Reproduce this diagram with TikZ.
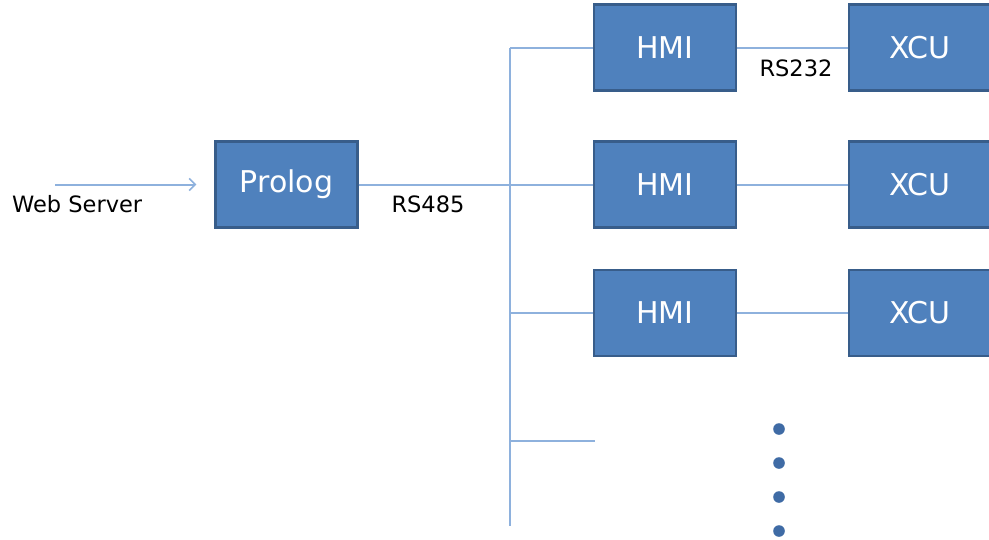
\documentclass[tikz,border=0pt]{standalone}
\usepackage{fontspec}
\setmainfont{DejaVu Sans}
\usetikzlibrary{arrows.meta}
\definecolor{boxfill}{HTML}{4F81BD}
\definecolor{boxline}{HTML}{385D8A}
\definecolor{wire}{HTML}{8EB1DD}
\definecolor{dotblue}{HTML}{3F6BA5}
\tikzset{
  unit/.style={draw=boxline, line width=2.4pt, fill=boxfill, text=white,
    minimum width=142pt, minimum height=86pt, inner sep=0pt,
    font=\fontsize{30}{36}\selectfont},
  tag/.style={inner sep=0pt, font=\fontsize{22.5}{27}\selectfont},
  wireline/.style={draw=wire, line width=2pt}
}
\begin{document}
\begin{tikzpicture}[x=1pt, y=-1pt, line cap=butt, line join=miter]

  %% ════ 方框 ════
  \node[unit] (prolog) at (286.5,184.5) {Prolog};
  \node[unit] (hmiA) at (665,47.5) {HMI};
  \node[unit] (hmiB) at (665,184.5) {HMI};
  \node[unit] (hmiC) at (665,313) {HMI};
  \node[unit] (xcuA) at (920,47.5) {XCU};
  \node[unit] (xcuB) at (920,184.5) {XCU};
  \node[unit] (xcuC) at (920,313) {XCU};

  %% ════ 总线 ════
  \coordinate (busTop) at (510,47.5);
  \coordinate (busMid) at (510,184.5);
  \coordinate (busLow) at (510,313);
  \coordinate (busTap) at (510,441);
  \coordinate (busEnd) at (510,526);
  \coordinate (tapEnd) at (595,441);
  \coordinate (webIn) at (55,184.5);

  \draw[wireline] (busTop) -- (busEnd);
  \draw[wireline] (busTop) -- (hmiA.west);
  \draw[wireline] (prolog.east) -- (hmiB.west);
  \draw[wireline] (busLow) -- (hmiC.west);
  \draw[wireline] (busTap) -- (tapEnd);
  \foreach \r in {A,B,C}
    \draw[wireline] (hmi\r.east) -- (xcu\r.west);
  \draw[wireline, -{Straight Barb[length=6pt,width=12pt,line width=1.5pt]}]
    (webIn) -- ([xshift=-18pt]prolog.west);

  %% ════ 标签 ════
  \node[tag, anchor=west] (web) at (12,204) {Web Server};
  \node[tag] (rs485) at (428,204) {RS485};
  \node[tag] (rs232) at (796,68) {RS232};

  %% ════ 省略点 ════
  \foreach \y [count=\i] in {429,463,497,531}
    \fill[dotblue] (779,\y) circle (5.8) coordinate (dot\i);

  % 钉死画布
  \pgfresetboundingbox
  \path[use as bounding box] (0,0) rectangle (989,539);
\end{tikzpicture}
\end{document}
